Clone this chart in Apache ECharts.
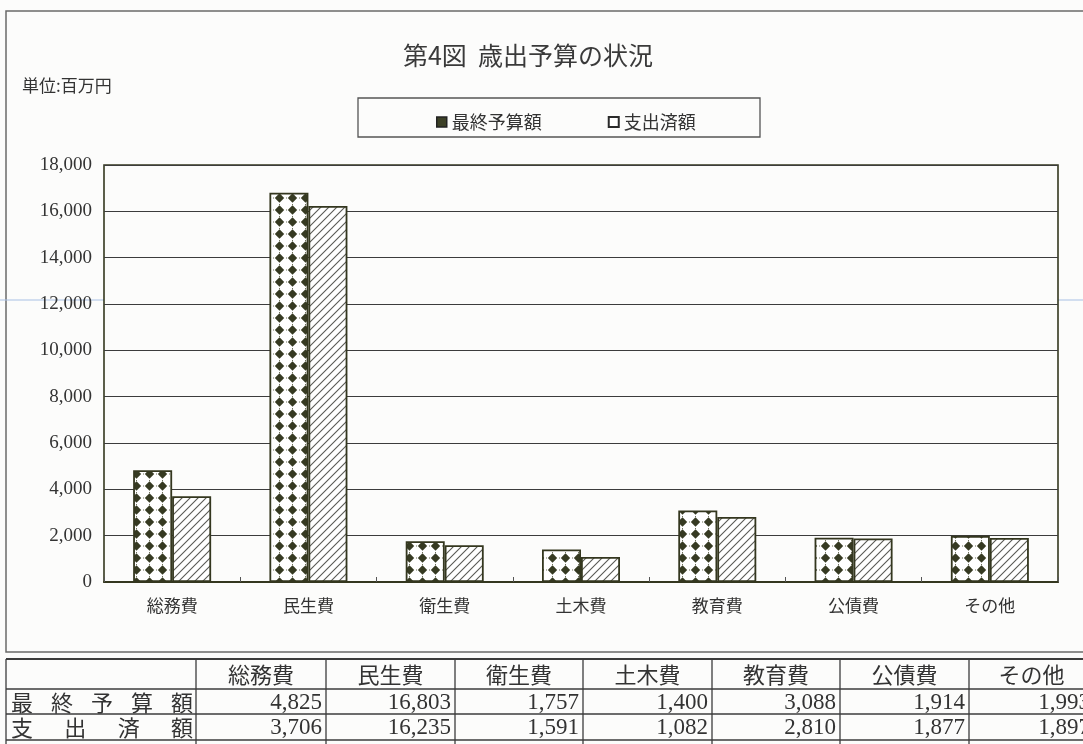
<!DOCTYPE html>
<html>
<head>
<meta charset="utf-8">
<style>
  html, body { margin: 0; padding: 0; background: #fcfcfb; }
  #chart { width: 1083px; height: 744px; }
</style>
<script src="https://cdn.jsdelivr.net/npm/echarts@6/dist/echarts.min.js"></script>
</head>
<body>
<div id="chart"></div>
<script>
// 歳出予算の状況（単位：百万円）
const categories = ['総務費', '民生費', '衛生費', '土木費', '教育費', '公債費', 'その他'];
const finalBudget = [4825, 16803, 1757, 1400, 3088, 1914, 1993];   // 最終予算額
const expended    = [3706, 16235, 1591, 1082, 2810, 1877, 1897];   // 支出済額
const seriesNames = ['最終予算額', '支出済額'];
const rowLabels = [['最', '終', '予', '算', '額'], ['支', '出', '済', '額']];
const yTicks = { min: 0, max: 18000, interval: 2000 };

const INK = '#34371f';
const TEXT = '#333333';
const JP = '"Noto Sans CJK JP", sans-serif';
const SERIF = '"Liberation Serif", "DejaVu Serif", serif';

// Fill patterns: dark diamonds on white, and a thin diagonal hatch
function diamondTile() {
  const c = document.createElement('canvas');
  c.width = 13; c.height = 12;
  const g = c.getContext('2d');
  g.fillStyle = '#ffffff';
  g.fillRect(0, 0, 13, 12);
  g.fillStyle = '#363a22';
  g.beginPath();
  g.moveTo(6.5, 1.2); g.lineTo(11.2, 6); g.lineTo(6.5, 10.8); g.lineTo(1.8, 6);
  g.closePath(); g.fill();
  g.fillStyle = '#6f725c';
  g.fillRect(0, 5.5, 1, 1);
  g.fillRect(6, 0, 1, 1);
  return c;
}
function hatchTile() {
  const c = document.createElement('canvas');
  c.width = 8; c.height = 8;
  const g = c.getContext('2d');
  g.fillStyle = '#ffffff';
  g.fillRect(0, 0, 8, 8);
  g.strokeStyle = '#5a5a55';
  g.lineWidth = 1.1;
  g.beginPath();
  g.moveTo(-1, 9); g.lineTo(9, -1);
  g.moveTo(-1, 1); g.lineTo(1, -1);
  g.moveTo(7, 9); g.lineTo(9, 7);
  g.stroke();
  return c;
}
const diamondFill = { image: diamondTile(), repeat: 'repeat' };
const hatchFill = { image: hatchTile(), repeat: 'repeat' };

// Data table geometry below the chart
const colX = [6, 196, 326, 455, 583, 712, 840, 969, 1094];
const rowY = [659, 689, 714, 740];
const fmt = v => v.toLocaleString('en-US');

function tableGraphics() {
  const els = [];
  const lineStyle = { stroke: '#3c3c3c', lineWidth: 1.3 };
  // horizontal rules
  rowY.forEach((y, i) => {
    els.push({ type: 'line', shape: { x1: colX[0], y1: y, x2: 1100, y2: y },
      style: { stroke: '#3c3c3c', lineWidth: i === 0 ? 2.2 : 1.3 } });
  });
  // vertical rules
  colX.forEach(x => {
    els.push({ type: 'line', shape: { x1: x, y1: rowY[0], x2: x, y2: 744 }, style: lineStyle });
  });
  // header row
  categories.forEach((name, i) => {
    els.push({ type: 'text', x: (colX[i + 1] + colX[i + 2]) / 2, y: (rowY[0] + rowY[1]) / 2 + 1,
      style: { text: name, fill: TEXT, font: '22px ' + JP, textAlign: 'center', textVerticalAlign: 'middle' } });
  });
  // row labels, spread across the first column
  rowLabels.forEach((chars, r) => {
    const cy = (rowY[r + 1] + (rowY[r + 2] || 742)) / 2 + 1;
    const first = 22, last = 182;
    const step = (last - first) / (chars.length - 1);
    chars.forEach((ch, k) => {
      els.push({ type: 'text', x: first + step * k, y: cy,
        style: { text: ch, fill: TEXT, font: '22px ' + JP, textAlign: 'center', textVerticalAlign: 'middle' } });
    });
  });
  // values
  [finalBudget, expended].forEach((vals, r) => {
    const cy = (rowY[r + 1] + (rowY[r + 2] || 742)) / 2 + 1;
    vals.forEach((v, i) => {
      els.push({ type: 'text', x: colX[i + 2] - 4, y: cy,
        style: { text: fmt(v), fill: TEXT, font: '23px ' + SERIF, textAlign: 'right', textVerticalAlign: 'middle' } });
    });
  });
  return els;
}

const chart = echarts.init(document.getElementById('chart'), null, { renderer: 'canvas' });
chart.setOption({
  backgroundColor: '#fcfcfb',
  animation: false,
  title: {
    text: '第4図  歳出予算の状況',
    left: 523, top: 38, textAlign: 'center',
    textStyle: { fontFamily: JP, fontSize: 25, fontWeight: 'normal', color: '#3a3a3a' }
  },
  legend: {
    left: 431, top: 108,
    itemWidth: 10, itemHeight: 10, itemGap: 66,
    textStyle: { fontFamily: JP, fontSize: 18, color: TEXT },
    data: [
      { name: seriesNames[0], icon: 'rect', itemStyle: { color: '#3c4026', borderColor: '#222', borderWidth: 1.5 } },
      { name: seriesNames[1], icon: 'rect', itemStyle: { color: '#ffffff', borderColor: '#2a2a2a', borderWidth: 2 } }
    ]
  },
  grid: { left: 104, right: 25, top: 165, bottom: 162, show: true, borderColor: INK, borderWidth: 1.6 },
  xAxis: {
    type: 'category', data: categories,
    axisLine: { lineStyle: { color: INK, width: 2 } },
    axisTick: { show: true, inside: true, length: 5, lineStyle: { color: '#555' } },
    axisLabel: { fontFamily: JP, fontSize: 17, color: TEXT, margin: 15 }
  },
  yAxis: {
    type: 'value', min: yTicks.min, max: yTicks.max, interval: yTicks.interval,
    axisLine: { show: false }, axisTick: { show: false },
    axisLabel: { fontFamily: SERIF, fontSize: 19, color: TEXT, margin: 12, formatter: v => fmt(v) },
    splitLine: { lineStyle: { color: '#3c3c3c', width: 1 } }
  },
  series: [
    { name: seriesNames[0], type: 'bar', data: finalBudget, barWidth: 39, barGap: '0%',
      itemStyle: { color: diamondFill, borderColor: INK, borderWidth: 1.8 } },
    { name: seriesNames[1], type: 'bar', data: expended, barWidth: 39,
      itemStyle: { color: hatchFill, borderColor: INK, borderWidth: 1.8 } }
  ],
  graphic: [
    // outer frame of the chart sheet
    { type: 'rect', shape: { x: 6, y: 11, width: 1100, height: 641 }, silent: true, z: -10,
      style: { fill: null, stroke: '#6a6a6a', lineWidth: 1.5 } },
    // thin guide line across the sheet
    { type: 'line', shape: { x1: 0, y1: 300, x2: 104, y2: 300 }, silent: true, z: -10,
      style: { stroke: '#a8c0e4', lineWidth: 1 } },
    { type: 'line', shape: { x1: 1058, y1: 300, x2: 1083, y2: 300 }, silent: true, z: -10,
      style: { stroke: '#a8c0e4', lineWidth: 1 } },
    // unit note
    { type: 'text', x: 22, y: 86, style: { text: '単位:百万円', fill: TEXT, font: '17px ' + JP, textVerticalAlign: 'middle' } },
    // legend frame
    { type: 'rect', shape: { x: 358, y: 98, width: 402, height: 39 }, silent: true, z: -5,
      style: { fill: null, stroke: '#555', lineWidth: 1.3 } },
    ...tableGraphics()
  ]
});
</script>
</body>
</html>
